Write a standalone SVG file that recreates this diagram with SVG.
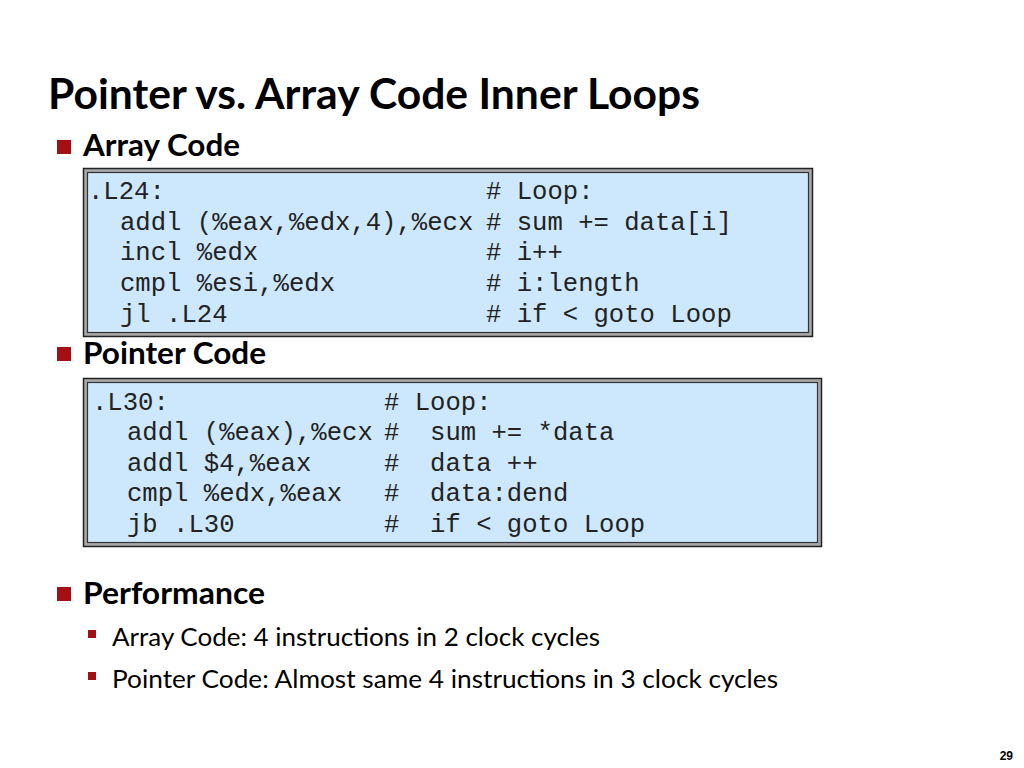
<svg xmlns="http://www.w3.org/2000/svg" width="1024" height="768" viewBox="0 0 1024 768">
<style>
.title{font-family:Lato,"Open Sans","Liberation Sans",sans-serif;font-weight:bold;fill:#000}
.h{font-family:Lato,"Open Sans","Liberation Sans",sans-serif;font-weight:bold;font-size:30px;fill:#000}
.b{font-family:Lato,"Open Sans","Liberation Sans",sans-serif;font-size:25px;fill:#000}
.code{font-family:"Liberation Mono","Courier New",monospace;font-size:25.6px;fill:#222}
.sq{fill:#A20F14}
.outer{fill:#A8A8A8;stroke:#222;stroke-width:1.5}
.inner{fill:#CDE8FD;stroke:#333;stroke-width:1.2}
</style>
<rect width="1024" height="768" fill="#fff"/>
<text class="title" x="48" y="109" font-size="42" textLength="652" lengthAdjust="spacingAndGlyphs">Pointer vs. Array Code Inner Loops</text>

<g id="bullet-array">
<rect class="sq" x="57" y="140" width="14" height="14"/>
<text class="h" x="83" y="156" textLength="157" lengthAdjust="spacingAndGlyphs">Array Code</text>
</g>

<g id="box-array">
<rect class="outer" x="83.5" y="168.5" width="729" height="168"/>
<rect class="inner" x="87.5" y="172.5" width="721" height="160"/>
<text class="code" xml:space="preserve"><tspan x="88" y="199">.L24:</tspan><tspan x="486" y="199"># Loop:</tspan><tspan x="120" y="230">addl (%eax,%edx,4),%ecx</tspan><tspan x="486" y="230"># sum += data[i]</tspan><tspan x="120" y="260">incl %edx</tspan><tspan x="486" y="260"># i++</tspan><tspan x="120" y="291">cmpl %esi,%edx</tspan><tspan x="486" y="291"># i:length</tspan><tspan x="120" y="322">jl .L24</tspan><tspan x="486" y="322"># if &lt; goto Loop</tspan></text>
</g>

<g id="bullet-pointer">
<rect class="sq" x="57" y="347" width="14" height="14"/>
<text class="h" x="83" y="364" textLength="183" lengthAdjust="spacingAndGlyphs">Pointer Code</text>
</g>

<g id="box-pointer">
<rect class="outer" x="83.5" y="378.5" width="738" height="168"/>
<rect class="inner" x="87.5" y="382.5" width="730" height="160"/>
<text class="code" xml:space="preserve"><tspan x="92" y="410">.L30:</tspan><tspan x="384" y="410"># Loop:</tspan><tspan x="127" y="440">addl (%eax),%ecx</tspan><tspan x="384" y="440">#  sum += *data</tspan><tspan x="127" y="471">addl $4,%eax</tspan><tspan x="384" y="471">#  data ++</tspan><tspan x="127" y="501">cmpl %edx,%eax</tspan><tspan x="384" y="501">#  data:dend</tspan><tspan x="127" y="532">jb .L30</tspan><tspan x="384" y="532">#  if &lt; goto Loop</tspan></text>
</g>

<g id="bullet-performance">
<rect class="sq" x="57" y="587" width="14" height="14"/>
<text class="h" x="83" y="604" textLength="182" lengthAdjust="spacingAndGlyphs">Performance</text>
<rect class="sq" x="88" y="630" width="8" height="8"/>
<text class="b" x="112" y="646" textLength="488" lengthAdjust="spacingAndGlyphs">Array Code: 4 instructions in 2 clock cycles</text>
<rect class="sq" x="88" y="672" width="8" height="8"/>
<text class="b" x="112" y="688" textLength="666" lengthAdjust="spacingAndGlyphs">Pointer Code: Almost same 4 instructions in 3 clock cycles</text>
</g>

<text x="1013" y="760" font-family="'Liberation Sans',Arial,sans-serif" font-weight="bold" font-size="12" text-anchor="end" fill="#000">29</text>
</svg>
